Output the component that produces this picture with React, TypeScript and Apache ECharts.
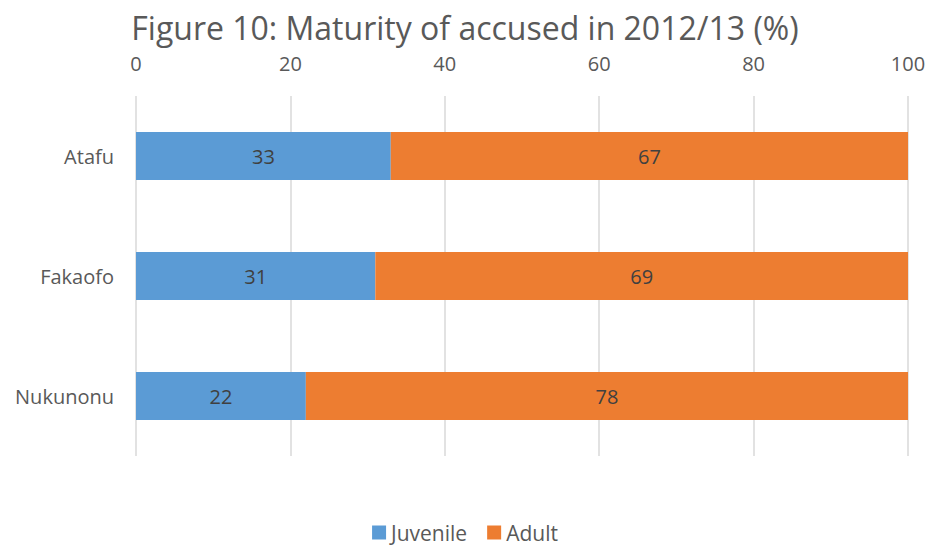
import React, { useEffect, useRef } from "react";
import * as echarts from "echarts";

const categories = ["Atafu", "Fakaofo", "Nukunonu"];
const juvenile = [33, 31, 22];
const adult = [67, 69, 78];
const FONT = "'Open Sans', 'Noto Sans', sans-serif";

export default function App() {
  const ref = useRef<HTMLDivElement>(null);
  useEffect(() => {
    const chart = echarts.init(ref.current!, null, { renderer: "svg" });
    chart.setOption({
      animation: false,
      title: {
        text: "Figure 10: Maturity of accused in 2012/13 (%)",
        left: "center",
        top: 8,
        padding: 0,
        textStyle: { fontFamily: FONT, fontSize: 32, lineHeight: 38, fontWeight: "normal", color: "#595959" },
      },
      legend: {
        bottom: -2,
        left: "center",
        itemWidth: 14,
        itemHeight: 14,
        itemGap: 20,
        icon: "rect",
        textStyle: { fontFamily: FONT, fontSize: 21, color: "#595959" },
        data: ["Juvenile", "Adult"],
      },
      grid: { left: 136, right: 22, top: 96, bottom: 90 },
      xAxis: {
        type: "value",
        position: "top",
        min: 0,
        max: 100,
        interval: 20,
        axisLine: { show: false },
        axisTick: { show: false },
        axisLabel: { fontFamily: FONT, fontSize: 20, color: "#595959", margin: 23 },
        splitLine: { lineStyle: { color: "#d9d9d9", width: 1.5 } },
      },
      yAxis: {
        type: "category",
        inverse: true,
        data: categories,
        axisLine: { show: false },
        axisTick: { show: false },
        axisLabel: { fontFamily: FONT, fontSize: 20, color: "#595959", margin: 22 },
      },
      series: [
        {
          name: "Juvenile",
          type: "bar",
          stack: "t",
          data: juvenile,
          barWidth: "40%",
          itemStyle: { color: "#5B9BD5" },
          label: { show: true, position: "inside", fontFamily: FONT, fontSize: 20, color: "#404040" },
        },
        {
          name: "Adult",
          type: "bar",
          stack: "t",
          data: adult,
          barWidth: "40%",
          itemStyle: { color: "#ED7D31" },
          label: { show: true, position: "inside", fontFamily: FONT, fontSize: 20, color: "#404040" },
        },
      ],
    });
    return () => chart.dispose();
  }, []);
  return (
    <div
      ref={ref}
      style={{ position: "fixed", left: 0, top: 0, width: 930, height: 546, background: "#fff" }}
    />
  );
}
